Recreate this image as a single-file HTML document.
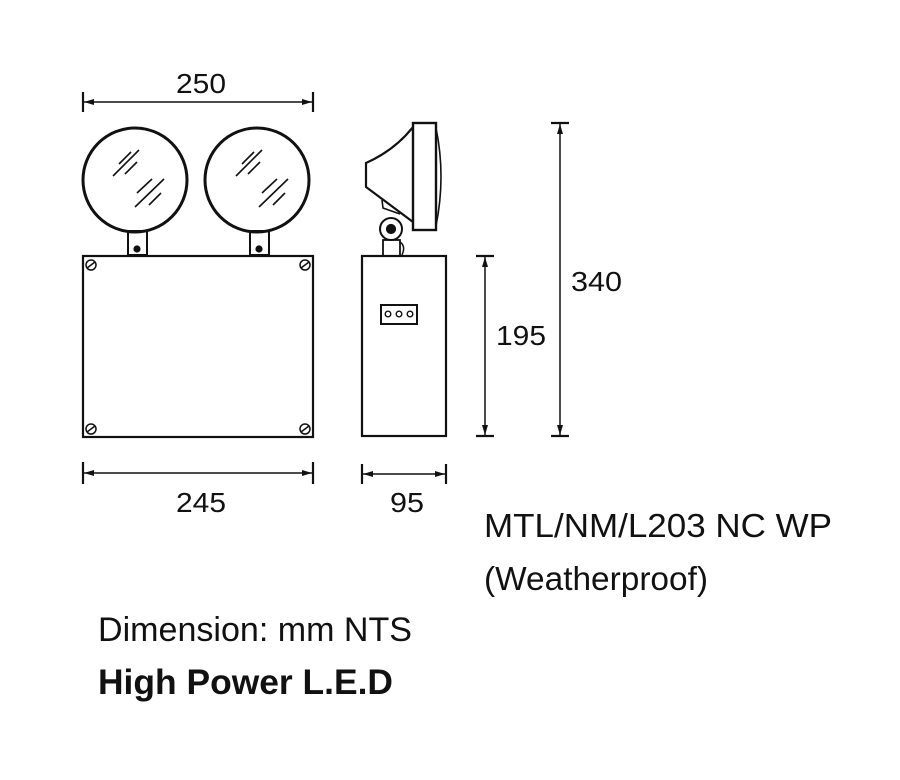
<!DOCTYPE html>
<html><head><style>
body{margin:0;background:#fff;width:900px;height:780px;overflow:hidden}
svg{position:absolute;left:0;top:0}
text{font-family:"Liberation Sans",sans-serif;fill:#111}
</style></head><body>
<svg width="900" height="780" viewBox="0 0 900 780">
<defs><marker id="a" viewBox="0 0 10 6" refX="10" refY="3" markerWidth="10" markerHeight="6" orient="auto-start-reverse" markerUnits="userSpaceOnUse"><path d="M0,0L10,3L0,6z" fill="#111"/></marker></defs>
<g stroke="#111" fill="none" stroke-width="2.2">
<line x1="83" y1="92" x2="83" y2="112"/><line x1="313" y1="92" x2="313" y2="112"/>
<line x1="84" y1="102" x2="312" y2="102" stroke-width="1.5" marker-start="url(#a)" marker-end="url(#a)"/>
<circle cx="135" cy="180" r="52" stroke-width="3"/>
<circle cx="257" cy="180" r="52" stroke-width="3"/>
<g stroke-width="1.6">
<line x1="113" y1="176" x2="139" y2="150"/><line x1="119" y1="164" x2="131" y2="152"/><line x1="125" y1="174" x2="137" y2="162"/>
<line x1="135" y1="207" x2="164" y2="179"/><line x1="137" y1="193" x2="152" y2="179"/><line x1="149" y1="205" x2="161" y2="193"/>
<line x1="236" y1="176" x2="262" y2="150"/><line x1="242" y1="164" x2="254" y2="152"/><line x1="248" y1="174" x2="260" y2="162"/>
<line x1="259" y1="207" x2="288" y2="179"/><line x1="262" y1="193" x2="277" y2="179"/><line x1="273" y1="205" x2="285" y2="193"/>
</g>
<rect x="128" y="231" width="19" height="24" stroke-width="2"/><circle cx="137" cy="249" r="2.5" fill="#111"/>
<rect x="250" y="231" width="19" height="24" stroke-width="2"/><circle cx="259" cy="249" r="2.5" fill="#111"/>
<rect x="83" y="256" width="230" height="181"/>
<g stroke-width="1.5"><circle cx="91" cy="265" r="5"/><line x1="87" y1="268" x2="95" y2="262"/>
<circle cx="305" cy="265" r="5"/><line x1="301" y1="268" x2="309" y2="262"/>
<circle cx="91" cy="429" r="5"/><line x1="87" y1="432" x2="95" y2="426"/>
<circle cx="305" cy="429" r="5"/><line x1="301" y1="432" x2="309" y2="426"/></g>
<line x1="83" y1="462" x2="83" y2="484"/><line x1="313" y1="462" x2="313" y2="484"/>
<line x1="84" y1="473" x2="312" y2="473" stroke-width="1.5" marker-start="url(#a)" marker-end="url(#a)"/>
<line x1="362" y1="464" x2="362" y2="484"/><line x1="446" y1="464" x2="446" y2="484"/>
<line x1="363" y1="474" x2="445" y2="474" stroke-width="1.5" marker-start="url(#a)" marker-end="url(#a)"/>
<rect x="413" y="123" width="23" height="107" stroke-width="2.4"/>
<path d="M436,128 Q446,176 436,226" stroke-width="1.6"/>
<path d="M413,127 Q395,150 366,163 L366,187 L413,222" stroke-width="2.2"/>
<path d="M382,200 L383,208 L400,214" stroke-width="1.6"/>
<circle cx="391" cy="229" r="11" stroke-width="2"/><circle cx="391" cy="229" r="4" fill="#111"/>
<rect x="383" y="240" width="17" height="16" stroke-width="1.8"/>
<path d="M400,242 Q406,246 402,255" stroke-width="1.5"/>
<rect x="362" y="256" width="84" height="180"/>
<rect x="381" y="305" width="36" height="19" stroke-width="2"/>
<circle cx="388" cy="314" r="2.8" stroke-width="1.4"/><circle cx="399" cy="314" r="2.8" stroke-width="1.4"/><circle cx="410" cy="314" r="2.8" stroke-width="1.4"/>
<line x1="476" y1="256" x2="494" y2="256"/><line x1="476" y1="436" x2="494" y2="436"/>
<line x1="485" y1="257" x2="485" y2="435" stroke-width="1.5" marker-start="url(#a)" marker-end="url(#a)"/>
<line x1="551" y1="123" x2="569" y2="123"/><line x1="551" y1="436" x2="569" y2="436"/>
<line x1="560" y1="124" x2="560" y2="435" stroke-width="1.5" marker-start="url(#a)" marker-end="url(#a)"/>
</g>
<text x="176" y="93" font-size="28" textLength="50" lengthAdjust="spacingAndGlyphs">250</text>
<text x="176" y="512" font-size="28" textLength="50" lengthAdjust="spacingAndGlyphs">245</text>
<text x="390" y="512" font-size="28" textLength="34" lengthAdjust="spacingAndGlyphs">95</text>
<text x="496" y="345" font-size="28" textLength="50" lengthAdjust="spacingAndGlyphs">195</text>
<text x="571" y="291" font-size="28" textLength="51" lengthAdjust="spacingAndGlyphs">340</text>
<text x="484" y="537" font-size="33" textLength="348" lengthAdjust="spacingAndGlyphs">MTL/NM/L203 NC WP</text>
<text x="484" y="590" font-size="33" textLength="224" lengthAdjust="spacingAndGlyphs">(Weatherproof)</text>
<text x="98" y="641" font-size="34" textLength="314" lengthAdjust="spacingAndGlyphs">Dimension: mm NTS</text>
<text x="98" y="694" font-size="35" font-weight="bold" textLength="295" lengthAdjust="spacingAndGlyphs">High Power L.E.D</text>
</svg>
</body></html>
